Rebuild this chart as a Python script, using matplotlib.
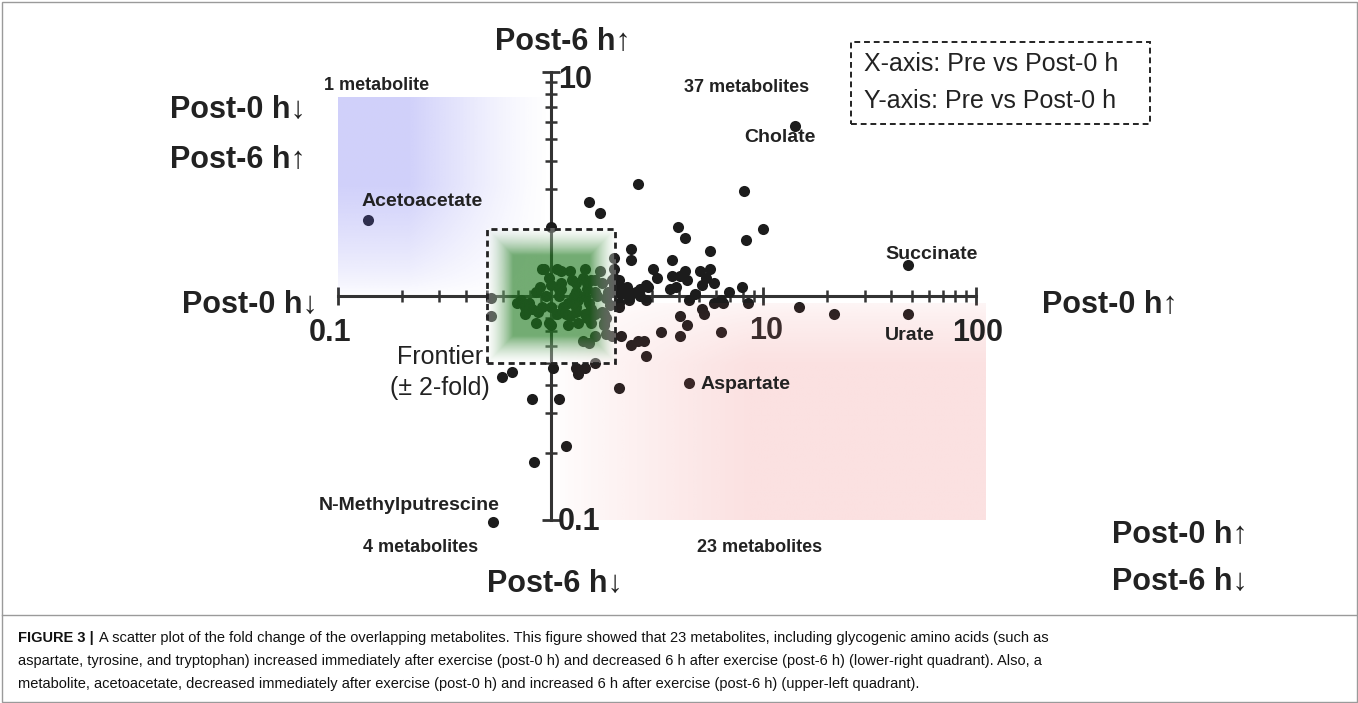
import numpy as np
import matplotlib
matplotlib.use('Agg')
import matplotlib.pyplot as plt
from matplotlib.patches import Rectangle
from matplotlib.lines import Line2D
from matplotlib.ticker import NullFormatter

plt.rcParams['font.family'] = ['Liberation Sans', 'DejaVu Sans']

# log10 fold change, x: Pre vs Post-0 h, y: Pre vs Post-6 h
log_fc0 = [0.41, 0.91, 0.60, 0.63, 1.00, 0.92, 0.38, 0.38, 0.75, 0.57,
           0.48, 0.50, 0.57, 0.61, 0.63, 0.64, 0.70, 0.75, 0.73, 0.71,
           0.77, 0.59, 0.56, 0.45, 0.42, 0.35, 0.38, 0.32, 0.84, 0.90,
           0.68, 0.65, 0.45, 0.80, 0.18, 0.23, 0.30, 0.29, 0.30, 0.00,
           0.33, 0.37, 0.40, 0.36, 0.46, 0.42, 0.37, 0.32, 0.77, 0.81,
           0.93, 1.17, 1.33, 0.71, 0.72, 0.61, 0.64, 0.52, 0.61, 0.80,
           0.33, 0.38, 0.41, 0.44, 0.45, 0.32, -0.23, -0.18, -0.09, 0.04,
           0.07, -0.08, 0.13, 0.16, 0.12, 0.21, 0.01, -0.28, -0.28, -0.14,
           -0.12, -0.09, -0.07, -0.03, -0.01, 0.00, -0.02, -0.04, 0.00, -0.16,
           -0.07, -0.01, 0.00, -0.05, 0.03, 0.05, 0.09, 0.16, 0.23, 0.10,
           0.15, 0.19, 0.05, 0.05, 0.24, 0.12, 0.17, 0.21, 0.27, 0.30,
           0.04, 0.08, 0.13, 0.18, 0.07, 0.12, 0.16, 0.21, 0.08, 0.13,
           0.19, 0.26, 0.24, 0.21, 0.26, 0.29, 0.15, 0.18, 0.30, 0.30,
           0.34, 0.11, 0.16, 0.22, 0.26, 0.06, 0.12, 0.19, 0.28, 0.32,
           0.03, 0.09, 0.17, 0.25, 0.25, 0.25, 0.04, 0.21, 0.12, 0.17,
           -0.04, -0.10, -0.12, -0.06]
log_fc6 = [0.50, 0.47, 0.31, 0.26, 0.30, 0.25, 0.21, 0.16, 0.20, 0.16,
           0.12, 0.08, 0.09, 0.09, 0.11, 0.07, 0.11, 0.12, 0.08, 0.05,
           0.06, 0.04, 0.03, 0.05, 0.03, 0.03, 0.01, 0.07, 0.02, 0.04,
           0.01, -0.02, -0.02, -0.02, 0.42, 0.37, 0.17, 0.07, 0.05, 0.31,
           0.01, 0.02, 0.02, 0.04, 0.04, 0.00, -0.02, -0.05, -0.03, -0.03,
           -0.03, -0.05, -0.08, -0.06, -0.08, -0.09, -0.13, -0.16, -0.18, -0.16,
           -0.18, -0.22, -0.20, -0.20, -0.27, -0.41, -0.36, -0.34, -0.46, -0.46,
           -0.67, -0.74, -0.35, -0.32, -0.32, -0.30, -0.32, -0.01, -0.09, -0.02,
           -0.05, -0.06, 0.02, 0.12, 0.08, 0.05, 0.00, -0.05, -0.05, -0.03,
           -0.12, -0.12, -0.13, 0.04, 0.12, 0.11, 0.11, 0.12, 0.11, 0.07,
           0.08, 0.07, 0.06, 0.03, 0.06, 0.02, 0.03, 0.02, 0.02, 0.02,
           0.00, -0.03, -0.02, -0.03, -0.08, -0.07, -0.08, -0.08, -0.13, -0.12,
           -0.12, -0.10, -0.07, -0.18, -0.17, -0.18, -0.20, -0.21, 0.12, 0.08,
           0.03, 0.00, 0.00, 0.00, -0.01, -0.05, -0.05, -0.06, -0.04, -0.03,
           -0.08, -0.09, -0.10, -0.12, -0.08, -0.13, 0.03, 0.07, 0.06, 0.06,
           0.12, -0.03, -0.08, -0.07]

named = ['Cholate', 'Succinate', 'Urate', 'Acetoacetate', 'Aspartate', 'N-Methylputrescine']
named_fc0 = [1.15, 1.68, 1.68, -0.86, 0.65, -0.27]
named_fc6 = [0.76, 0.14, -0.08, 0.34, -0.39, -1.01]

counts = ['37 metabolites', '1 metabolite', '4 metabolites', '23 metabolites']
fold_limit = 2

caption = [
    "A scatter plot of the fold change of the overlapping metabolites. This figure showed that 23 metabolites, including glycogenic amino acids (such as",
    "aspartate, tyrosine, and tryptophan) increased immediately after exercise (post-0 h) and decreased 6 h after exercise (post-6 h) (lower-right quadrant). Also, a",
    "metabolite, acetoacetate, decreased immediately after exercise (post-0 h) and increased 6 h after exercise (post-6 h) (upper-left quadrant).",
]

W, H = 1358, 703
fig = plt.figure(figsize=(W / 100, H / 100), dpi=100)


def fpos(px, py):
    return px / W, 1 - py / H


def label(px, py, s, **kw):
    kw.setdefault('color', '#222222')
    kw.setdefault('ha', 'center')
    kw.setdefault('va', 'center')
    return fig.text(px / W, 1 - py / H, s, **kw)


ax = fig.add_axes([338 / W, 1 - 520 / H, 638 / W, 448 / H])
ax.set_xscale('log')
ax.set_yscale('log')
ax.patch.set_alpha(0)

x = 10 ** np.array(log_fc0 + named_fc0)
y = 10 ** np.array(log_fc6 + named_fc6)
ax.scatter(x, y, s=64, c='#1c1c1c', linewidths=0, zorder=3, clip_on=False)

for sp in ['top', 'right']:
    ax.spines[sp].set_visible(False)
ax.spines['left'].set_position(('data', 1))
ax.spines['bottom'].set_position(('data', 1))
for sp in ['left', 'bottom']:
    ax.spines[sp].set_linewidth(2.2)
    ax.spines[sp].set_color('#333333')
ax.tick_params(which='major', direction='inout', length=13, width=2, color='#333333')
ax.tick_params(which='minor', direction='inout', length=8, width=1.8, color='#333333')
ax.xaxis.set_major_formatter(NullFormatter())
ax.xaxis.set_minor_formatter(NullFormatter())
ax.yaxis.set_major_formatter(NullFormatter())
ax.yaxis.set_minor_formatter(NullFormatter())


def afx(v):
    return (np.log10(v) + 1) / 3


def afy(v):
    return (np.log10(v) + 1) / 2


n = 240
u, v = np.meshgrid(np.linspace(0, 1, n), np.linspace(0, 1, n))

# blue quadrant (upper left)
blue = np.zeros((n, n, 4))
blue[..., 0] = 110 / 255
blue[..., 1] = 110 / 255
blue[..., 2] = 240 / 255
blue[..., 3] = 0.32 * np.clip((1 - u) * 1.5, 0, 1) ** 1.3 * np.clip((1 - v) * 1.8, 0, 1) ** 0.7
ax.imshow(blue, extent=(0, afx(1), afy(1), afy(7.7)), transform=ax.transAxes,
          aspect='auto', zorder=4, interpolation='bilinear', clip_on=False)

# red quadrant (lower right)
red = np.zeros((n, n, 4))
red[..., 0] = 235 / 255
red[..., 1] = 105 / 255
red[..., 2] = 105 / 255
red[..., 3] = 0.2 * np.clip(u * 2.2, 0, 1) ** 0.8 * np.clip(v * 3 + 0.15, 0, 1) ** 0.6
ax.imshow(red, extent=(afx(1), 1.014, 0, afy(0.93)), transform=ax.transAxes,
          aspect='auto', zorder=4, interpolation='bilinear', clip_on=False)

# green frontier (+-2 fold)
d = np.maximum(np.abs(u - 0.5), np.abs(v - 0.5)) * 2
t = np.clip((1 - d) / 0.4, 0, 1)
green = np.zeros((n, n, 4))
gc = np.array([30, 122, 30]) / 255
for k in range(3):
    green[..., k] = (1 - t) * 1.0 + t * gc[k]
green[..., 3] = 0.3 + 0.32 * t
ax.imshow(green, extent=(afx(1 / fold_limit), afx(fold_limit), afy(1 / fold_limit), afy(fold_limit)),
          transform=ax.transAxes, aspect='auto', zorder=4, interpolation='bilinear')

ax.add_patch(Rectangle((1 / fold_limit, 1 / fold_limit), fold_limit - 1 / fold_limit,
                       fold_limit - 1 / fold_limit, fill=False, ec='#222222', lw=2,
                       ls=(0, (2.2, 1.6)), zorder=6))

ax.set_xlim(0.1, 100)
ax.set_ylim(0.1, 10)

# axis numbers
big = dict(fontsize=22, fontweight='bold')
label(330, 333, '0.1', **big)
label(766, 331, '10', color='#3b2c2c', **big)
label(978, 333, '100', **big)
label(558, 80, '10', ha='left', **big)
label(558, 522, '0.1', ha='left', **big)

# direction labels
post = dict(fontsize=22, fontweight='bold')
label(563, 42, 'Post-6 h↑', **post)
label(238, 110, 'Post-0 h↓', **post)
label(238, 160, 'Post-6 h↑', **post)
label(250, 305, 'Post-0 h↓', **post)
label(1110, 305, 'Post-0 h↑', **post)
label(1180, 535, 'Post-0 h↑', **post)
label(1180, 582, 'Post-6 h↓', **post)
label(555, 584, 'Post-6 h↓', **post)

small = dict(fontsize=13, fontweight='bold')
label(747, 88, counts[0], **small)
label(377, 86, counts[1], **small)
label(478, 548, counts[2], ha='right', **small)
label(760, 548, counts[3], **small)

nm = dict(fontsize=14, fontweight='bold')
label(780, 138, named[0], **nm)
label(932, 254, named[1], **nm)
label(910, 335, named[2], **nm)
label(422, 202, named[3], **nm)
label(701, 384, named[4], ha='left', **nm)
label(500, 506, named[5], ha='right', **nm)

label(483, 357, 'Frontier', ha='right', fontsize=18)
label(490, 388, '(± 2-fold)', ha='right', fontsize=18)

# legend box
x0, y0 = fpos(851, 124)
fig.add_artist(Rectangle((x0, y0), (1150 - 851) / W, (124 - 42) / H, transform=fig.transFigure,
                         fill=False, ec='#222222', lw=1.4, ls=(0, (3, 2))))
label(864, 64, 'X-axis: Pre vs Post-0 h', ha='left', fontsize=18)
label(864, 101, 'Y-axis: Pre vs Post-0 h', ha='left', fontsize=18)

# frame and caption
fig.add_artist(Rectangle((1.5 / W, 1.5 / H), 1 - 3 / W, 1 - 3 / H, transform=fig.transFigure,
                         fill=False, ec='#9a9a9a', lw=1))
fig.add_artist(Line2D([1.5 / W, 1 - 1.5 / W], [1 - 615 / H, 1 - 615 / H], transform=fig.transFigure,
                      color='#9a9a9a', lw=1))
cap = dict(fontsize=10.5, ha='left', color='#111111')
t0 = label(18, 638, 'FIGURE 3 |', fontweight='bold', **cap)
r = fig.canvas.get_renderer()
w0 = t0.get_window_extent(renderer=r).width
label(18 + w0 + 5, 638, caption[0], **cap)
label(18, 661, caption[1], **cap)
label(18, 684, caption[2], **cap)

fig.savefig('out.png', dpi=100)
